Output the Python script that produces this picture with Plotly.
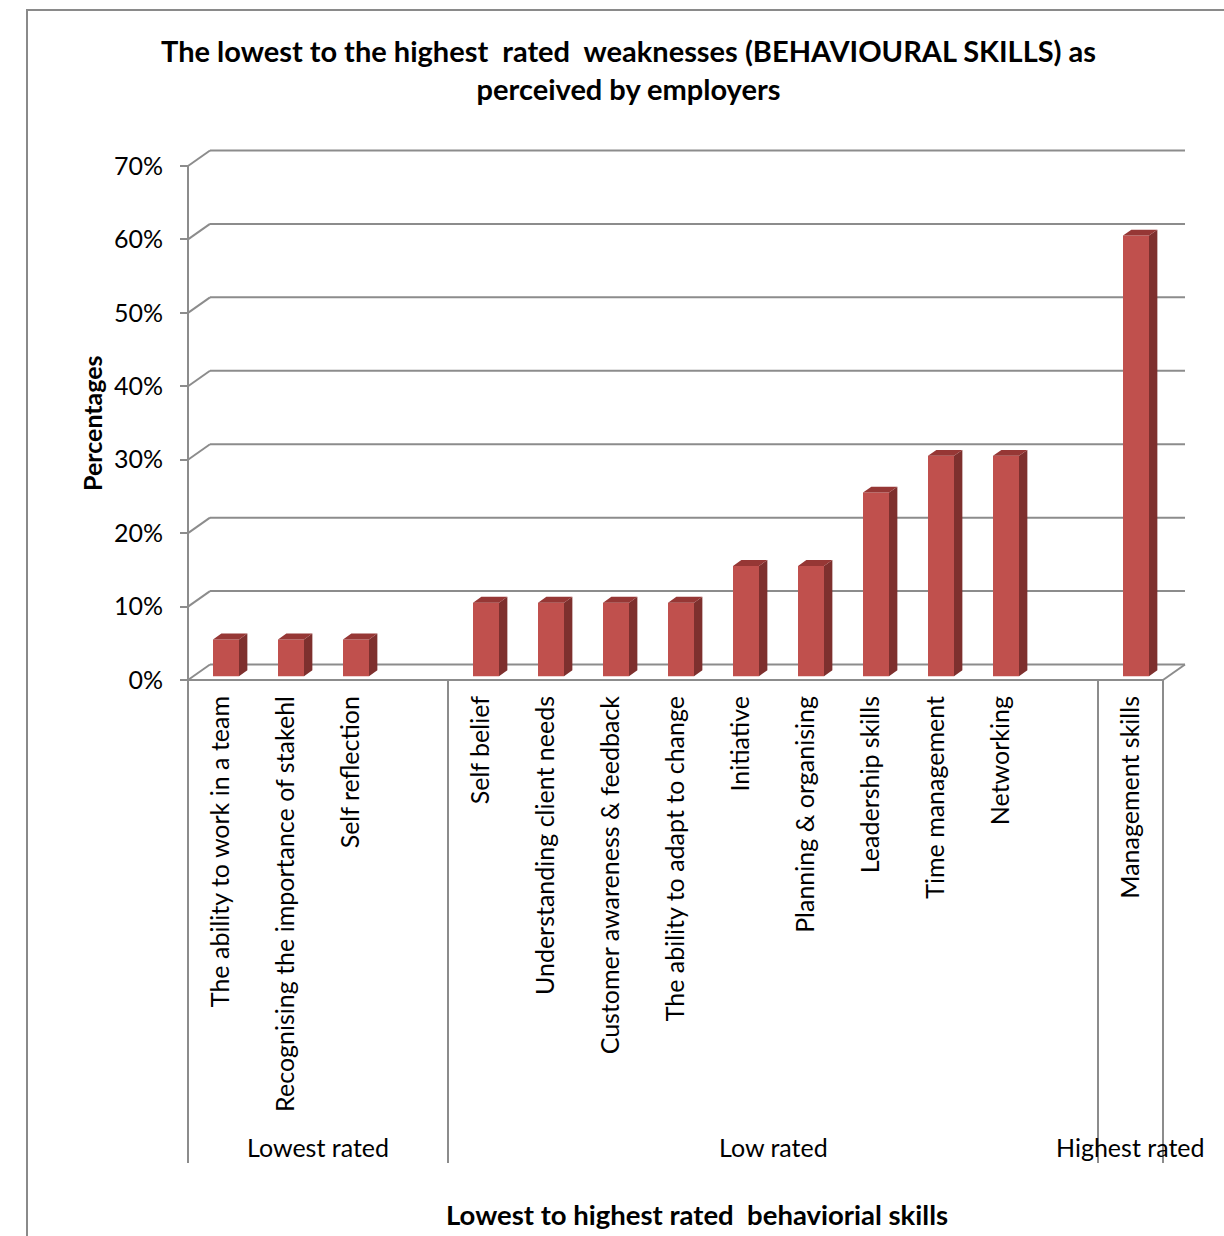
import plotly.graph_objects as go

# ---- data -------------------------------------------------------------
group_names = ["Lowest rated", "Low rated", "Highest rated"]
group_skills = [
    ["The ability to work in a team",
     "Recognising the importance of stakehl",
     "Self reflection"],
    ["Self belief",
     "Understanding client needs",
     "Customer awareness & feedback",
     "The ability to adapt to change",
     "Initiative",
     "Planning & organising",
     "Leadership skills",
     "Time management",
     "Networking"],
    ["Management skills"],
]
group_values = [
    [5, 5, 5],
    [10, 10, 10, 10, 15, 15, 25, 30, 30],
    [60],
]
y_ticks = [0, 10, 20, 30, 40, 50, 60, 70]

# ---- geometry of the pseudo-3D frame ----------------------------------
W, H = 1224, 1236
FRONT_LEFT_PX, SLOT_PX = 188, 65          # front x position of first slot, slot width
ZERO_PX, PX_PER_PCT = 680, 514 / 70       # front y position of 0 %, pixels per percent
DX = 22 / SLOT_PX                         # wall depth, in slot units
DY = 15.5 / PX_PER_PCT                    # wall depth, in percent units
D0, D1 = 0.25, 0.63                       # bar front / back depth fraction
BAR_W = 0.4

x_range = [-FRONT_LEFT_PX / SLOT_PX, (W - FRONT_LEFT_PX) / SLOT_PX]
y_range = [(ZERO_PX - H) / PX_PER_PCT, ZERO_PX / PX_PER_PCT]

# slot layout: each group followed by one empty slot (except the last)
slots, labels, values, seps, centers = [], [], [], [0], []
s = 0
for gi, (names, vals) in enumerate(zip(group_skills, group_values)):
    start = s
    for n, v in zip(names, vals):
        slots.append(s)
        labels.append(n)
        values.append(v)
        s += 1
    if gi < len(group_skills) - 1:
        s += 1
    seps.append(s)
    centers.append((start + s) / 2)
n_slots = s

FRONT = "#C0504D"
SIDE = "#7E302E"
TOP = "#963735"
GRID = "#8C8C8C"
FONT = "Lato"
TXT = 25

fig = go.Figure()

# front faces of the columns
bar_x = [sl + 0.5 + D0 * DX for sl in slots]
fig.add_trace(go.Bar(
    x=bar_x, y=values, base=D0 * DY, width=BAR_W,
    marker=dict(color=FRONT, line=dict(width=0)),
    hovertext=labels, hoverinfo="text+y", showlegend=False,
))

# side and top faces
ddx, ddy = (D1 - D0) * DX, (D1 - D0) * DY
side_x, side_y, top_x, top_y = [], [], [], []
for cx, v in zip(bar_x, values):
    xl, xr = cx - BAR_W / 2, cx + BAR_W / 2
    b, t = D0 * DY, D0 * DY + v
    side_x += [xr, xr + ddx, xr + ddx, xr, xr, None]
    side_y += [b, b + ddy, t + ddy, t, b, None]
    top_x += [xl, xr, xr + ddx, xl + ddx, xl, None]
    top_y += [t, t, t + ddy, t + ddy, t, None]
fig.add_trace(go.Scatter(x=side_x, y=side_y, mode="lines", fill="toself",
                         fillcolor=SIDE, line=dict(width=0, color=SIDE),
                         hoverinfo="skip", showlegend=False))
fig.add_trace(go.Scatter(x=top_x, y=top_y, mode="lines", fill="toself",
                         fillcolor=TOP, line=dict(width=0, color=TOP),
                         hoverinfo="skip", showlegend=False))

# walls: back gridlines and side-wall diagonals
shapes = []
line = dict(color=GRID, width=2)
for v in y_ticks:
    shapes.append(dict(type="line", xref="x", yref="y", layer="below",
                       x0=DX, x1=n_slots + DX, y0=v + DY, y1=v + DY, line=line))
    shapes.append(dict(type="line", xref="x", yref="y", layer="below",
                       x0=0, x1=DX, y0=v, y1=v + DY, line=line))
# floor front edge and right diagonal
shapes.append(dict(type="line", xref="x", yref="y", layer="below",
                   x0=0, x1=n_slots, y0=0, y1=0, line=line))
shapes.append(dict(type="line", xref="x", yref="y", layer="below",
                   x0=n_slots, x1=n_slots + DX, y0=0, y1=DY, line=line))
# vertical value axis
shapes.append(dict(type="line", xref="x", yref="y", layer="below",
                   x0=0, x1=0, y0=0, y1=y_ticks[-1], line=line))
# group separators below the category axis
sep_bottom = (ZERO_PX - 1163) / PX_PER_PCT
for sp in seps:
    shapes.append(dict(type="line", xref="x", yref="y", layer="below",
                       x0=sp, x1=sp, y0=0, y1=sep_bottom, line=line))
# chart border
shapes.append(dict(type="rect", xref="paper", yref="paper",
                   x0=27 / W, x1=1.05, y0=-0.05, y1=1 - 10 / H,
                   line=dict(color="#8A8A8A", width=2)))

annotations = []
group_y = (ZERO_PX - 1147) / PX_PER_PCT
for name, c in zip(group_names, centers):
    annotations.append(dict(x=c, y=group_y, xref="x", yref="y", text=name,
                            xanchor="center", yanchor="middle", showarrow=False,
                            font=dict(family=FONT, size=TXT, color="black")))
annotations.append(dict(
    x=628.5 / W, y=1 - 69.5 / H, xref="paper", yref="paper",
    xanchor="center", yanchor="middle",
    text="<b>The lowest to the highest\u00a0\u00a0rated\u00a0\u00a0weaknesses (BEHAVIOURAL SKILLS) as<br>perceived by employers</b>",
    showarrow=False, font=dict(family=FONT, size=29, color="black")))
annotations.append(dict(
    x=92 / W, y=1 - 423 / H, xref="paper", yref="paper", textangle=-90,
    xanchor="center", yanchor="middle",
    text="<b>Percentages</b>", showarrow=False,
    font=dict(family=FONT, size=25, color="black")))
annotations.append(dict(
    x=697 / W, y=1 - 1214 / H, xref="paper", yref="paper",
    xanchor="center", yanchor="middle",
    text="<b>Lowest to highest rated\u00a0\u00a0behaviorial skills</b>", showarrow=False,
    font=dict(family=FONT, size=27.5, color="black")))

fig.update_layout(
    width=W, height=H, margin=dict(l=0, r=0, t=0, b=0),
    paper_bgcolor="white", plot_bgcolor="white",
    barmode="overlay", shapes=shapes, annotations=annotations,
    xaxis=dict(range=x_range, domain=[0, 1], anchor="free",
               position=(0 - y_range[0]) / (y_range[1] - y_range[0]),
               tickmode="array", tickvals=[sl + 0.5 for sl in slots], ticktext=labels,
               tickangle=-90, ticks="", showgrid=False, zeroline=False, showline=False,
               ticklabelstandoff=10,
               tickfont=dict(family=FONT, size=TXT, color="black")),
    yaxis=dict(range=y_range, domain=[0, 1], anchor="free",
               position=(0 - x_range[0]) / (x_range[1] - x_range[0]),
               tickmode="array", tickvals=y_ticks, ticktext=[f"{v}%" for v in y_ticks],
               ticks="outside", ticklen=8, tickwidth=2, tickcolor=GRID,
               showgrid=False, zeroline=False, showline=False,
               ticklabelstandoff=12,
               tickfont=dict(family=FONT, size=TXT, color="black")),
)

fig.write_html("out.html")
